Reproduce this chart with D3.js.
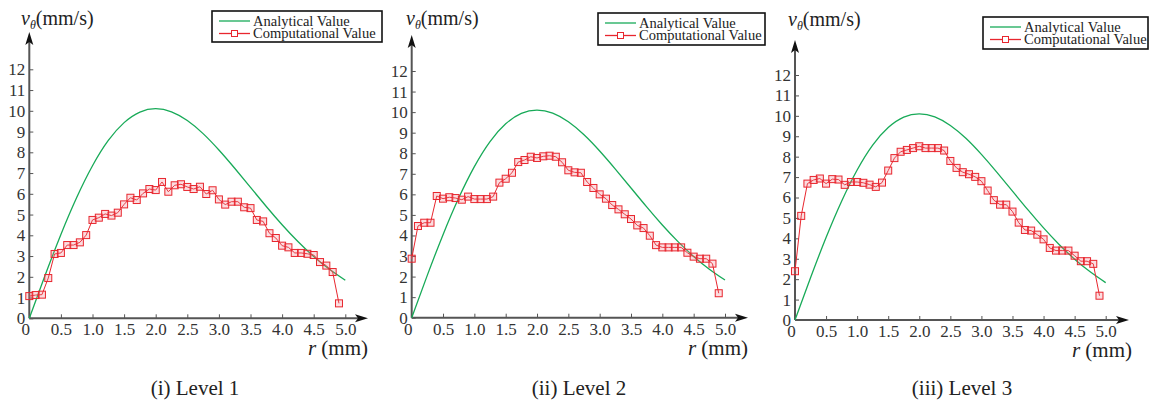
<!DOCTYPE html>
<html>
<head>
<meta charset="utf-8">
<script src="https://cdn.jsdelivr.net/npm/d3@7"></script>
<style>
  body { margin: 0; background: #fff; }
</style>
</head>
<body>
<div id="chart"></div>
<script>
// radial positions of the computed points (mm)
var rComp = d3.range(50).map(function(i) { return +(i * 0.1).toFixed(1); });

// analytical curve
var rAna = [0, 0.25, 0.5, 0.75, 1.0, 1.25, 1.5, 1.75, 2.0, 2.25, 2.5, 2.75, 3.0,
            3.25, 3.5, 3.75, 4.0, 4.25, 4.5, 4.75, 5.0];
var vAna = [0, 2.07, 4.04, 5.82, 7.35, 8.57, 9.43, 9.94, 10.1, 9.95, 9.53, 8.9, 8.11,
            7.23, 6.31, 5.39, 4.51, 3.70, 2.98, 2.36, 1.83];

var vLevel1 = [1.07, 1.12, 1.14, 1.94, 3.10, 3.15, 3.53, 3.53, 3.66, 4.01,
               4.74, 4.85, 5.03, 4.95, 5.09, 5.49, 5.81, 5.70, 6.02, 6.23,
               6.18, 6.57, 6.10, 6.41, 6.46, 6.33, 6.23, 6.34, 5.99, 6.17,
               5.73, 5.48, 5.62, 5.62, 5.35, 5.31, 4.74, 4.67, 4.10, 3.87,
               3.50, 3.42, 3.15, 3.15, 3.11, 3.05, 2.71, 2.54, 2.23, 0.72];
var vLevel2 = [2.87, 4.46, 4.62, 4.62, 5.92, 5.79, 5.86, 5.82, 5.74, 5.89,
               5.77, 5.77, 5.77, 5.89, 6.57, 6.76, 7.05, 7.57, 7.67, 7.83,
               7.77, 7.85, 7.88, 7.83, 7.56, 7.17, 7.07, 7.05, 6.60, 6.31,
               6.00, 5.79, 5.48, 5.27, 5.03, 4.80, 4.49, 4.36, 3.99, 3.53,
               3.42, 3.42, 3.42, 3.42, 3.16, 2.97, 2.87, 2.87, 2.63, 1.19];
var vLevel3 = [2.39, 5.10, 6.68, 6.86, 6.93, 6.68, 6.90, 6.88, 6.62, 6.76,
               6.76, 6.72, 6.63, 6.52, 6.73, 7.32, 7.93, 8.24, 8.33, 8.42,
               8.51, 8.42, 8.42, 8.42, 8.30, 7.79, 7.45, 7.24, 7.14, 7.01,
               6.80, 6.34, 5.87, 5.65, 5.65, 5.31, 4.77, 4.41, 4.38, 4.18,
               3.95, 3.53, 3.40, 3.40, 3.40, 3.15, 2.88, 2.88, 2.75, 1.19];

var xTicks = [0, 0.5, 1.0, 1.5, 2.0, 2.5, 3.0, 3.5, 4.0, 4.5, 5.0];
var yTicks = [0, 1, 2, 3, 4, 5, 6, 7, 8, 9, 10, 11, 12];
var captions = ["(i) Level 1", "(ii) Level 2", "(iii) Level 3"];
var legendNames = ["Analytical Value", "Computational Value"];

var green = "#18aa58", red = "#e8262e", axisCol = "#555";
var serif = "'Liberation Serif', 'Times New Roman', Times, serif";

var svg = d3.select("#chart").append("svg")
  .attr("width", 1155).attr("height", 405)
  .attr("font-family", serif);

// layout of each panel (pixels)
var panels = [
  {x0: 29.3, x5: 345.3, y0: 318.3, y12: 69.3, arrowX: 368, arrowY: 32,
   leg: [212, 11, 170, 31], title: [21, 25], rLab: [368, 355], cap: [195, 395], data: vLevel1},
  {x0: 411.7, x5: 725, y0: 317.7, y12: 71, arrowX: 748, arrowY: 35,
   leg: [598, 13, 167, 32], title: [406, 25], rLab: [748, 355], cap: [579, 395], data: vLevel2},
  {x0: 795, x5: 1105.7, y0: 320, y12: 75, arrowX: 1129, arrowY: 40,
   leg: [983, 17, 165, 32], title: [788, 26], rLab: [1132, 357], cap: [962, 395], data: vLevel3}
];

panels.forEach(function(p, i) {
  var g = svg.append("g");
  var x = d3.scaleLinear().domain([0, 5]).range([p.x0, p.x5]);
  var y = d3.scaleLinear().domain([0, 12]).range([p.y0, p.y12]);

  // y axis
  var yAx = g.append("g")
    .attr("transform", "translate(" + p.x0 + ",0)")
    .call(d3.axisRight(y).tickValues(yTicks).tickSize(4).tickFormat(d3.format("d")))
    .attr("font-family", serif).attr("font-size", 17);
  yAx.select(".domain").remove();
  yAx.selectAll("line").attr("stroke", axisCol);
  yAx.selectAll("text")
    .attr("x", -4).attr("text-anchor", "end").attr("fill", "#333");

  // x axis
  var xAx = g.append("g")
    .attr("transform", "translate(0," + p.y0 + ")")
    .call(d3.axisTop(x).tickValues(xTicks).tickSize(4)
      .tickFormat(function(d) { return d === 0 ? "0" : d3.format(".1f")(d); }))
    .attr("font-family", serif).attr("font-size", 17);
  xAx.select(".domain").remove();
  xAx.selectAll("line").attr("stroke", axisCol);
  xAx.selectAll("text")
    .attr("y", 17).attr("dy", 0).attr("fill", "#333");
  xAx.selectAll(".tick").filter(function(d) { return d === 0; })
    .select("text").attr("dx", -4);

  // axis lines with arrows
  g.append("line")
    .attr("x1", p.x0).attr("y1", p.y0).attr("x2", p.x0).attr("y2", p.arrowY + 6)
    .attr("stroke", axisCol).attr("stroke-width", 2);
  g.append("line")
    .attr("x1", p.x0).attr("y1", p.y0).attr("x2", p.arrowX - 6).attr("y2", p.y0)
    .attr("stroke", axisCol).attr("stroke-width", 2);
  g.append("path")
    .attr("d", "M" + p.x0 + "," + p.arrowY + "l-4,13l4,-3l4,3z")
    .attr("fill", "#111");
  g.append("path")
    .attr("d", "M" + p.arrowX + "," + p.y0 + "l-13,-4l3,4l-3,4z")
    .attr("fill", "#111");

  // axis titles
  var t = g.append("text")
    .attr("x", p.title[0]).attr("y", p.title[1])
    .attr("font-size", 20).attr("fill", "#222");
  t.append("tspan").attr("font-style", "italic").text("v");
  t.append("tspan").attr("font-style", "italic").attr("font-size", 12)
    .attr("dy", 4).text("θ");
  t.append("tspan").attr("dy", -4).text("(mm/s)");

  var rl = g.append("text")
    .attr("x", p.rLab[0]).attr("y", p.rLab[1])
    .attr("text-anchor", "end").attr("font-size", 21).attr("fill", "#222");
  rl.append("tspan").attr("font-style", "italic").text("r");
  rl.append("tspan").text(" (mm)");

  g.append("text")
    .attr("x", p.cap[0]).attr("y", p.cap[1])
    .attr("text-anchor", "middle").attr("font-size", 21).attr("fill", "#222")
    .text(captions[i]);

  // analytical curve
  g.append("path")
    .datum(d3.zip(rAna, vAna))
    .attr("d", d3.line()
      .x(function(d) { return x(d[0]); })
      .y(function(d) { return y(d[1]); })
      .curve(d3.curveNatural))
    .attr("fill", "none").attr("stroke", green).attr("stroke-width", 1.3);

  // computational curve
  var comp = d3.zip(rComp, p.data);
  g.append("path")
    .datum(comp)
    .attr("d", d3.line()
      .x(function(d) { return x(d[0]); })
      .y(function(d) { return y(d[1]); }))
    .attr("fill", "none").attr("stroke", red).attr("stroke-width", 1);
  g.selectAll(".mk").data(comp).enter().append("rect")
    .attr("class", "mk")
    .attr("x", function(d) { return x(d[0]) - 3.5; })
    .attr("y", function(d) { return y(d[1]) - 3.5; })
    .attr("width", 7).attr("height", 7)
    .attr("fill", "rgba(240,120,130,0.25)")
    .attr("stroke", red).attr("stroke-width", 1);

  // legend
  var L = p.leg;
  var lg = g.append("g").attr("transform", "translate(" + L[0] + "," + L[1] + ")");
  lg.append("rect").attr("width", L[2]).attr("height", L[3])
    .attr("fill", "#fff").attr("stroke", "#111").attr("stroke-width", 1.6);
  [green, red].forEach(function(c, k) {
    var yy = 10 + k * 12.5;
    lg.append("line").attr("x1", 7).attr("x2", 38).attr("y1", yy).attr("y2", yy)
      .attr("stroke", c).attr("stroke-width", 1.3);
    if (k === 1) {
      lg.append("rect").attr("x", 19.5).attr("y", yy - 3).attr("width", 6).attr("height", 6)
        .attr("fill", "#fff").attr("stroke", c).attr("stroke-width", 1);
    }
    lg.append("text").attr("x", 41).attr("y", yy + 4.5)
      .attr("font-size", 14.5).attr("fill", "#222")
      .text(legendNames[k]);
  });
});
</script>
</body>
</html>
